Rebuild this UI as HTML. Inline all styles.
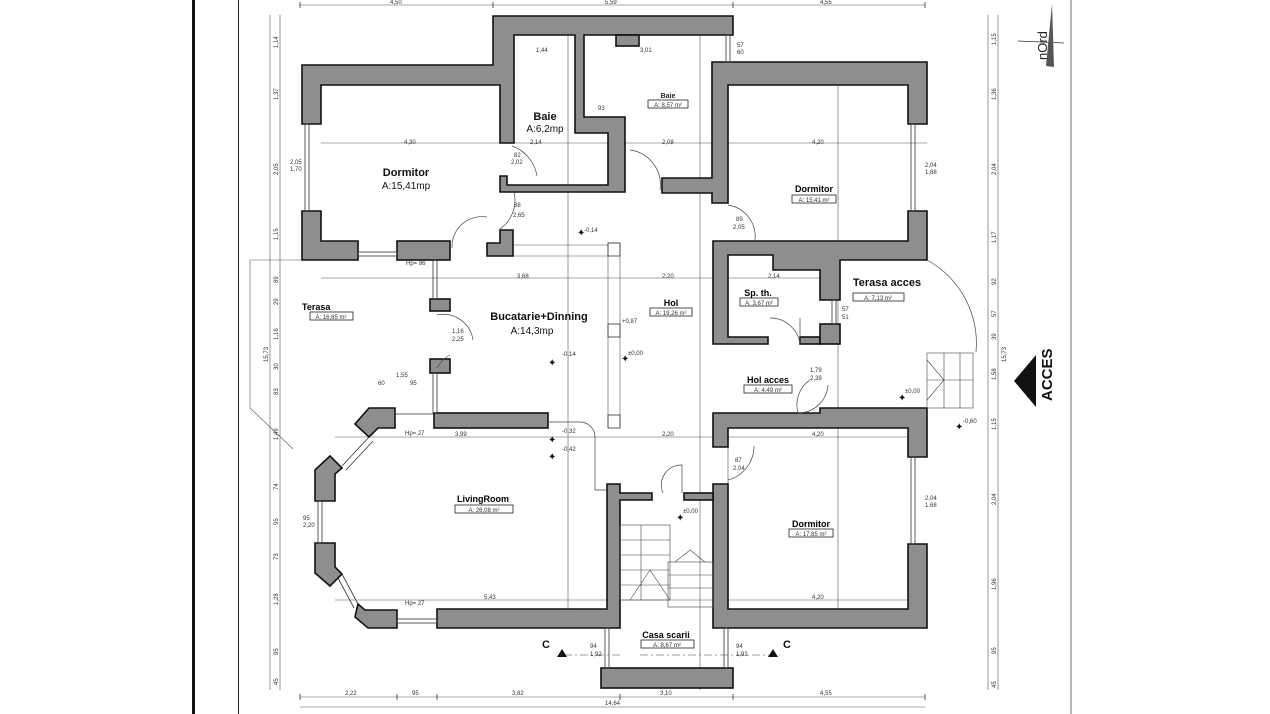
<!DOCTYPE html>
<html><head><meta charset="utf-8"><style>
html,body{margin:0;padding:0;background:#fff;}
svg{display:block;font-family:"Liberation Sans",sans-serif;}
.w{fill:#8e8e8e;stroke:#111;stroke-width:1.6;}
.t{stroke:#555;stroke-width:0.6;fill:none;}
.d{font-size:6px;fill:#333;}
.r{font-size:11px;font-weight:bold;fill:#111;}
.a{font-size:10px;fill:#111;}
.s{font-size:7px;fill:#222;}
.box{fill:#fff;stroke:#222;stroke-width:0.8;}
</style></head><body>
<svg width="1270" height="714" viewBox="0 0 1270 714">
<rect width="1270" height="714" fill="#fff"/>
<line x1="193.5" y1="0" x2="193.5" y2="714" stroke="#111" stroke-width="3"/>
<line x1="238.5" y1="0" x2="238.5" y2="714" stroke="#222" stroke-width="1"/>
<line x1="1071" y1="0" x2="1071" y2="714" stroke="#888" stroke-width="1.2"/>

<g class="t">
<line x1="300" y1="5" x2="925" y2="5"/>
<line x1="300" y1="697" x2="925" y2="697"/>
<line x1="300" y1="707" x2="925" y2="707"/>
<line x1="280" y1="15" x2="280" y2="690"/>
<line x1="270" y1="15" x2="270" y2="690"/>
<line x1="988" y1="15" x2="988" y2="690"/>
<line x1="998" y1="15" x2="998" y2="690"/>
<line x1="250" y1="260" x2="250" y2="408"/>
<line x1="250" y1="260" x2="302" y2="260"/>
<line x1="250" y1="408" x2="293" y2="449"/>
<line x1="321" y1="143" x2="927" y2="143"/>
<line x1="321" y1="278" x2="840" y2="278"/>
<line x1="335" y1="437" x2="908" y2="437"/>
<line x1="335" y1="600" x2="908" y2="600"/>
<line x1="568" y1="35" x2="568" y2="609"/>
<line x1="700" y1="35" x2="700" y2="690"/>
<line x1="608" y1="243" x2="608" y2="428"/>
<line x1="620" y1="243" x2="620" y2="428"/>
<line x1="608" y1="243" x2="620" y2="243"/>
<line x1="513" y1="245" x2="608" y2="245"/>
<line x1="513" y1="256" x2="608" y2="256"/>
<line x1="838" y1="62" x2="838" y2="260"/>
<line x1="838" y1="260" x2="838" y2="628"/>
<line x1="728" y1="437" x2="728" y2="628"/>
</g>
<g fill="#333">
<path d="M300 2v6M493 2v6M733 2v6M925 2v6M300 694v6M397 694v6M437 694v6M620 694v6M733 694v6M925 694v6" stroke="#333" stroke-width="0.8"/>
</g>
<g class="d">
<text x="390" y="4">4,50</text><text x="605" y="4">5,59</text><text x="820" y="4">4,55</text>
<text x="345" y="695">2,22</text><text x="412" y="695">95</text><text x="512" y="695">3,82</text>
<text x="660" y="695">3,10</text><text x="820" y="695">4,55</text><text x="605" y="705">14,64</text>
</g>
<g class="d">
<text transform="translate(278,48) rotate(-90)">1,14</text>
<text transform="translate(278,100) rotate(-90)">1,37</text>
<text transform="translate(278,175) rotate(-90)">2,05</text>
<text transform="translate(278,240) rotate(-90)">1,15</text>
<text transform="translate(278,283) rotate(-90)">89</text>
<text transform="translate(278,305) rotate(-90)">29</text>
<text transform="translate(278,340) rotate(-90)">1,16</text>
<text transform="translate(278,370) rotate(-90)">30</text>
<text transform="translate(278,395) rotate(-90)">83</text>
<text transform="translate(278,440) rotate(-90)">1,49</text>
<text transform="translate(278,490) rotate(-90)">74</text>
<text transform="translate(278,525) rotate(-90)">95</text>
<text transform="translate(278,560) rotate(-90)">73</text>
<text transform="translate(278,605) rotate(-90)">1,28</text>
<text transform="translate(278,655) rotate(-90)">95</text>
<text transform="translate(278,685) rotate(-90)">45</text>
<text transform="translate(268,362) rotate(-90)">15,73</text>
<text transform="translate(996,45) rotate(-90)">1,15</text>
<text transform="translate(996,100) rotate(-90)">1,36</text>
<text transform="translate(996,175) rotate(-90)">2,04</text>
<text transform="translate(996,243) rotate(-90)">1,17</text>
<text transform="translate(996,285) rotate(-90)">92</text>
<text transform="translate(996,317) rotate(-90)">57</text>
<text transform="translate(996,340) rotate(-90)">39</text>
<text transform="translate(996,380) rotate(-90)">1,58</text>
<text transform="translate(996,430) rotate(-90)">1,15</text>
<text transform="translate(996,505) rotate(-90)">2,04</text>
<text transform="translate(996,590) rotate(-90)">1,96</text>
<text transform="translate(996,654) rotate(-90)">95</text>
<text transform="translate(996,688) rotate(-90)">45</text>
<text transform="translate(1006,362) rotate(-90)">15,73</text>
</g>

<g class="w">
<polygon points="302,65 493,65 493,16 733,16 733,35 584,35 584,117 625,117 625,192 500,192 500,176 507,176 507,185 608,185 608,133 575,133 575,35 514,35 514,143 500,143 500,85 321,85 321,124 302,124"/>
<rect x="616" y="35" width="23" height="11"/>
<polygon points="302,211 321,211 321,241 358,241 358,260 302,260"/>
<rect x="397" y="241" width="53" height="19"/>
<polygon points="500,230 513,230 513,256 487,256 487,243 500,243"/>
<rect x="430" y="299" width="20" height="12"/>
<rect x="430" y="359" width="20" height="14"/>
<polygon points="712,62 927,62 927,124 908,124 908,85 728,85 728,203 712,203 712,193 662,193 662,178 712,178"/>
<polygon points="713,241 908,241 908,211 927,211 927,260 840,260 840,300 820,300 820,270 773,270 773,255 728,255 728,337 768,337 768,344 713,344"/>
<rect x="800" y="337" width="20" height="7"/>
<rect x="820" y="324" width="20" height="20"/>
<polygon points="838,408 927,408 927,457 908,457 908,428 728,428 728,447 713,447 713,413 820,413 820,408"/>
<polygon points="713,484 728,484 728,609 908,609 908,544 927,544 927,628 713,628"/>
<polygon points="607,484 620,484 620,493 652,493 652,500 620,500 620,628 437,628 437,609 607,609"/>
<rect x="684" y="493" width="29" height="7"/>
<rect x="434" y="413" width="114" height="15"/>
<rect x="601" y="668" width="132" height="20"/>
<polygon points="369,408 395,408 395,428 378,428 369,437 355,424"/>
<polygon points="315,470 330,456 342,468 335,474 335,501 315,501"/>
<polygon points="315,543 335,543 335,567 342,574 330,586 315,573"/>
<polygon points="358,604 365,610 397,610 397,628 368,628 355,617"/>
</g>

<g stroke="#333" stroke-width="0.8" fill="none">
<rect x="305" y="124" width="4" height="87"/><rect x="911" y="124" width="4" height="87"/>
<rect x="911" y="457" width="4" height="87"/><rect x="358" y="252" width="39" height="4"/>
<rect x="397" y="619" width="40" height="4"/><rect x="318" y="501" width="4" height="42"/>
<rect x="433" y="260" width="4" height="39"/><rect x="433" y="373" width="4" height="40"/>
<path d="M342 466 L369 437 M346 470 L373 441"/><path d="M342 574 L358 604 M338 578 L354 608"/>
<line x1="395" y1="414" x2="434" y2="414"/>
<rect x="726" y="35" width="4" height="27"/><rect x="832" y="300" width="4" height="24"/>
<rect x="724" y="628" width="4" height="40"/><rect x="605" y="628" width="4" height="40"/>
<rect x="608" y="243" width="12" height="13"/><rect x="608" y="324" width="12" height="13"/><rect x="608" y="415" width="12" height="13"/>
</g>

<g stroke="#444" stroke-width="0.7" fill="none">
<path d="M512 146 A38 38 0 0 1 537 176"/>
<path d="M514 192 A35 35 0 0 1 500 229"/>
<path d="M452 248 A30 30 0 0 1 487 217"/>
<path d="M437 315 A30 30 0 0 1 473 340 M437 368 A30 30 0 0 1 450 355"/>
<path d="M660 190 A35 35 0 0 0 630 150"/>
<path d="M728 205 A32 32 0 0 1 755 240"/>
<path d="M800 344 A30 30 0 0 0 770 318 M800 344 L800 318"/>
<path d="M927 260 A95 95 0 0 1 976 352"/>
<path d="M798 413 A30 30 0 0 1 810 380 M798 413 A30 30 0 0 0 828 385"/>
<path d="M728 480 A35 35 0 0 0 754 446"/>
<path d="M663 493 A20 20 0 0 1 682 465 L682 493"/>
<path d="M548 422 L580 422 A15 15 0 0 1 595 437 L595 490 L607 490"/>
</g>

<g stroke="#444" stroke-width="0.6" fill="none">
<rect x="620" y="525" width="50" height="75"/>
<path d="M620 540h50M620 555h50M620 570h50M620 585h50M641 525v75M630 600l20-30 20 30"/>
<rect x="668" y="562" width="45" height="45"/>
<path d="M668 575h45M668 588h45M675 562l15 -12 15 12"/>
<rect x="927" y="353" width="46" height="55"/>
<path d="M927 380h46M944 353v55M960 353v55M927 360l17 20-17 20"/>
<path d="M620 655h-60M640 655h140" stroke-dasharray="8 3 2 3"/>
</g>
<polygon points="557,657 567,657 562,649" fill="#111"/>
<polygon points="768,657 778,657 773,649" fill="#111"/>
<text x="542" y="648" class="r">C</text><text x="783" y="648" class="r">C</text>

<g class="d">
<text x="584" y="232">-0,14</text><text x="622" y="323">+0,87</text><text x="562" y="356">-0,14</text>
<text x="628" y="355">±0,00</text><text x="562" y="433">-0,32</text><text x="562" y="451">-0,42</text>
<text x="683" y="513">±0,00</text><text x="905" y="393">±0,00</text><text x="963" y="423">-0,60</text>
</g>
<g fill="#111" font-size="10"><text x="577" y="236">✦</text><text x="548" y="366">✦</text><text x="621" y="362">✦</text><text x="548" y="443">✦</text><text x="548" y="460">✦</text><text x="676" y="521">✦</text><text x="898" y="401">✦</text><text x="955" y="430">✦</text></g>

<text x="406" y="176" class="r" text-anchor="middle">Dormitor</text>
<text x="406" y="189" class="a" text-anchor="middle">A:15,41mp</text>
<text x="545" y="120" class="r" text-anchor="middle">Baie</text>
<text x="545" y="132" class="a" text-anchor="middle">A:6,2mp</text>
<text x="668" y="98" class="s" font-size="9" font-weight="bold" text-anchor="middle">Baie</text>
<rect x="648" y="100" width="40" height="8" class="box"/><text x="668" y="107" class="d" text-anchor="middle">A: 8,57 m²</text>
<text x="814" y="192" font-size="9" font-weight="bold" text-anchor="middle">Dormitor</text>
<rect x="792" y="195" width="44" height="8" class="box"/><text x="814" y="202" class="d" text-anchor="middle">A: 15,41 m²</text>
<text x="302" y="310" font-size="9" font-weight="bold">Terasa</text>
<rect x="310" y="312" width="43" height="8" class="box"/><text x="331" y="319" class="d" text-anchor="middle">A: 16,65 m²</text>
<text x="539" y="320" class="r" text-anchor="middle">Bucatarie+Dinning</text>
<text x="532" y="334" class="a" text-anchor="middle">A:14,3mp</text>
<text x="671" y="306" font-size="9" font-weight="bold" text-anchor="middle">Hol</text>
<rect x="650" y="308" width="42" height="8" class="box"/><text x="671" y="315" class="d" text-anchor="middle">A: 19,26 m²</text>
<text x="758" y="296" font-size="9" font-weight="bold" text-anchor="middle">Sp. th.</text>
<rect x="740" y="298" width="38" height="8" class="box"/><text x="759" y="305" class="d" text-anchor="middle">A: 3,67 m²</text>
<text x="887" y="286" class="r" text-anchor="middle">Terasa acces</text>
<rect x="853" y="293" width="51" height="8" class="box"/><text x="878" y="300" class="d" text-anchor="middle">A: 7,13 m²</text>
<text x="768" y="383" font-size="9" font-weight="bold" text-anchor="middle">Hol acces</text>
<rect x="744" y="385" width="48" height="8" class="box"/><text x="768" y="392" class="d" text-anchor="middle">A: 4,49 m²</text>
<text x="483" y="502" font-size="9" font-weight="bold" text-anchor="middle">LivingRoom</text>
<rect x="455" y="505" width="58" height="8" class="box"/><text x="484" y="512" class="d" text-anchor="middle">A: 26,08 m²</text>
<text x="811" y="527" font-size="9" font-weight="bold" text-anchor="middle">Dormitor</text>
<rect x="789" y="529" width="44" height="8" class="box"/><text x="811" y="536" class="d" text-anchor="middle">A: 17,85 m²</text>
<text x="666" y="638" font-size="9" font-weight="bold" text-anchor="middle">Casa scarii</text>
<rect x="641" y="640" width="53" height="8" class="box"/><text x="667" y="647" class="d" text-anchor="middle">A: 8,67 m²</text>

<g class="d">
<text x="404" y="144">4,30</text><text x="530" y="144">2,14</text><text x="662" y="144">2,08</text><text x="812" y="144">4,20</text>
<text x="517" y="278">3,68</text><text x="662" y="278">2,20</text><text x="768" y="278">2,14</text>
<text x="455" y="436">3,99</text><text x="662" y="436">2,20</text><text x="812" y="436">4,20</text>
<text x="484" y="599">5,43</text><text x="812" y="599">4,20</text>
<text x="536" y="52">1,44</text><text x="640" y="52">3,01</text><text x="598" y="110">93</text>
<text x="514" y="157">82</text><text x="511" y="164">2,02</text><text x="514" y="207">88</text><text x="513" y="217">2,65</text>
<text x="452" y="333">1,16</text><text x="452" y="341">2,25</text><text x="396" y="377">1,55</text><text x="378" y="385">60</text><text x="410" y="385">95</text>
<text x="736" y="221">89</text><text x="733" y="229">2,05</text><text x="735" y="462">87</text><text x="733" y="470">2,04</text>
<text x="810" y="372">1,79</text><text x="810" y="380">2,39</text><text x="925" y="167">2,04</text><text x="925" y="174">1,68</text>
<text x="925" y="500">2,04</text><text x="925" y="507">1,68</text><text x="737" y="47">57</text><text x="737" y="54">60</text>
<text x="842" y="311">57</text><text x="842" y="319">51</text><text x="290" y="164">2,05</text><text x="290" y="171">1,70</text>
<text x="303" y="520">95</text><text x="303" y="527">2,20</text><text x="406" y="265">Hp= 86</text><text x="405" y="605">Hp= 27</text><text x="405" y="435">Hp= 27</text>
<text x="590" y="648">94</text><text x="590" y="656">1,92</text><text x="736" y="648">94</text><text x="736" y="656">1,92</text>
</g>

<polygon points="1014,381 1036,355 1036,407" fill="#111"/>
<text transform="translate(1052,401) rotate(-90)" font-size="15" font-weight="bold" fill="#111" font-family="'Liberation Sans Narrow','Liberation Sans',sans-serif">ACCES</text>
<text transform="translate(1047,60) rotate(-90)" font-size="13" fill="#222">nOrd</text>
<line x1="1018" y1="41" x2="1064" y2="43" stroke="#333" stroke-width="0.8"/>
<polygon points="1046,66 1052,4 1054,67" fill="#555"/>
</svg>
</body></html>
